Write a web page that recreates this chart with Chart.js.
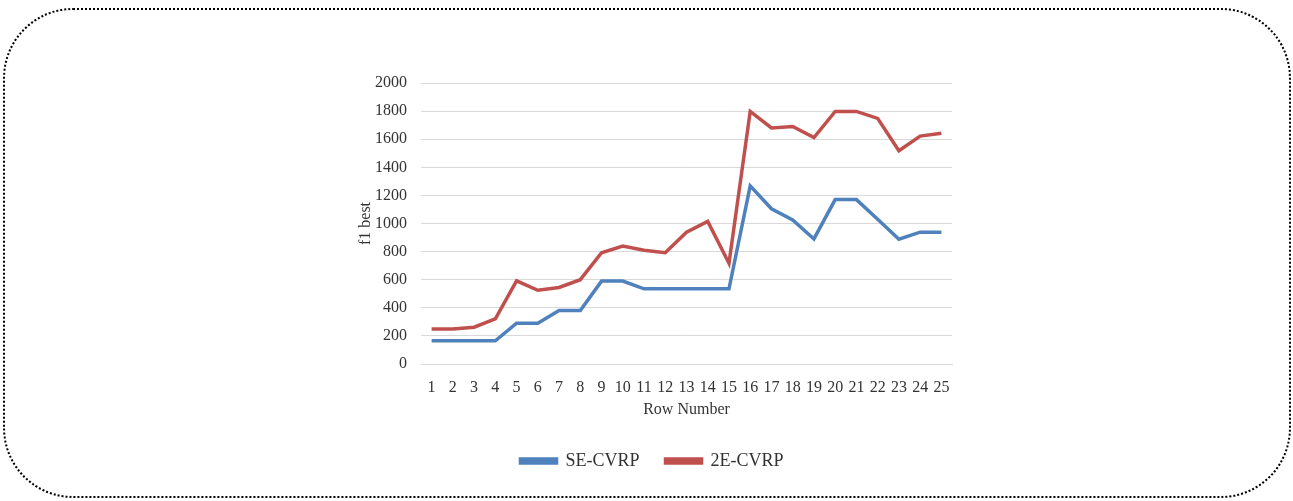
<!DOCTYPE html>
<html>
<head>
<meta charset="utf-8">
<script src="https://cdn.jsdelivr.net/npm/chart.js@4.4.0/dist/chart.umd.min.js"></script>
<style>
  html, body { margin: 0; padding: 0; background: #fff; }
  #frame {
    position: absolute; left: 3px; top: 8px; width: 1284px; height: 486px;
    border: 2px dotted #000; border-radius: 70px;
  }
  #wrap { position: absolute; left: 0; top: 0; width: 1293px; height: 501px; }
</style>
</head>
<body>
<div id="frame"></div>
<div id="wrap"><canvas id="chart" width="1293" height="501"></canvas></div>
<script>
// row numbers on the x axis
const rows = ['1','2','3','4','5','6','7','8','9','10','11','12','13','14','15','16','17','18','19','20','21','22','23','24','25'];
// f1 best for each variant
const seCvrp = [165,165,165,165,290,290,380,380,590,590,535,535,535,535,535,1268,1105,1025,890,1170,1170,1030,888,938,938];
const twoECvrp = [250,250,262,322,592,525,545,600,792,840,810,792,938,1015,717,1798,1680,1690,1612,1798,1798,1748,1518,1622,1642];
const yTicks = [0,200,400,600,800,1000,1200,1400,1600,1800,2000];

const font = { family: 'Liberation Serif', size: 16 };
const textColor = '#333';

new Chart(document.getElementById('chart'), {
  type: 'line',
  data: {
    labels: rows,
    datasets: [
      { label: 'SE-CVRP', data: seCvrp, borderColor: '#4F81BD', backgroundColor: '#4F81BD', borderWidth: 3.5, pointRadius: 0, tension: 0 },
      { label: '2E-CVRP', data: twoECvrp, borderColor: '#C0504D', backgroundColor: '#C0504D', borderWidth: 3.5, pointRadius: 0, tension: 0 }
    ]
  },
  options: {
    responsive: false,
    animation: false,
    layout: { padding: { left: 352, right: 341, top: 83, bottom: 21 } },
    plugins: {
      legend: {
        position: 'bottom',
        labels: { font: { family: 'Liberation Serif', size: 18 }, color: textColor, boxWidth: 36, boxHeight: 4, padding: 26 }
      },
      tooltip: { enabled: false }
    },
    scales: {
      x: {
        offset: true,
        grid: { display: false, drawTicks: false },
        border: { color: '#d9d9d9' },
        ticks: { font: font, color: textColor, padding: 14, maxRotation: 0, autoSkip: false },
        title: { display: true, text: 'Row Number', font: font, color: textColor, padding: { top: 2, bottom: 7 } },
        afterFit: (s) => { s.height = 62; }
      },
      y: {
        min: 0, max: 2000,
        afterBuildTicks: (s) => { s.ticks = yTicks.map(v => ({ value: v })); },
        grid: { color: '#d9d9d9', drawTicks: false },
        border: { display: false },
        ticks: { font: font, color: textColor, padding: 14, callback: (v) => String(v) },
        title: { display: true, text: 'f1 best', font: font, color: textColor },
        afterFit: (s) => { s.width = 69; }
      }
    }
  }
});
</script>
</body>
</html>
